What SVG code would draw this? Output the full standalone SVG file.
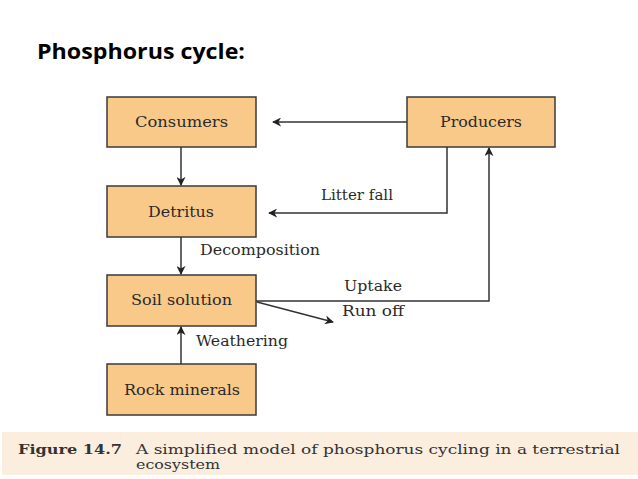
<svg xmlns="http://www.w3.org/2000/svg" width="638" height="479" viewBox="0 0 638 479">
<style>
.box{fill:#f9c98a;stroke:#3a3a3a;stroke-width:1.5}
.lbl{font-family:"DejaVu Serif","Liberation Serif",serif;font-size:14px;fill:#2a2a2a}
.cl{font-family:"DejaVu Serif","Liberation Serif",serif;font-size:14px;fill:#2a2a2a}
.ln{fill:none;stroke:#333;stroke-width:1.5}
.cap{font-family:"DejaVu Serif","Liberation Serif",serif;font-size:12.5px;fill:#333}
</style>
<defs>
<marker id="ah" viewBox="0 0 10 10" refX="9" refY="5" markerWidth="9" markerHeight="9" markerUnits="userSpaceOnUse" orient="auto">
<path d="M0,0 L10,5 L0,10 L3,5 Z" fill="#222"/>
</marker>
</defs>
<rect width="638" height="479" fill="#fff"/>
<text x="37" y="59" font-family="'Open Sans','Liberation Sans',sans-serif" font-weight="bold" font-size="21" fill="#000" textLength="208" lengthAdjust="spacingAndGlyphs">Phosphorus cycle:</text>
<g id="consumers"><rect class="box" x="107" y="97" width="149" height="50"/><text class="cl" x="135" y="127" textLength="93" lengthAdjust="spacingAndGlyphs">Consumers</text></g>
<g id="producers"><rect class="box" x="407" y="97" width="148" height="50"/><text class="cl" x="440" y="127" textLength="82" lengthAdjust="spacingAndGlyphs">Producers</text></g>
<g id="detritus"><rect class="box" x="107" y="186" width="149" height="51"/><text class="cl" x="148" y="217" textLength="66" lengthAdjust="spacingAndGlyphs">Detritus</text></g>
<g id="soil"><rect class="box" x="107" y="275" width="149" height="51"/><text class="cl" x="131" y="305" textLength="101" lengthAdjust="spacingAndGlyphs">Soil solution</text></g>
<g id="rock"><rect class="box" x="107" y="364" width="149" height="51"/><text class="cl" x="124" y="395" textLength="116" lengthAdjust="spacingAndGlyphs">Rock minerals</text></g>
<g id="connectors">
<line class="ln" x1="407" y1="122" x2="273" y2="122" marker-end="url(#ah)"/>
<line class="ln" x1="181" y1="147" x2="181" y2="185" marker-end="url(#ah)"/>
<polyline class="ln" points="447,147 447,213 269,213" marker-end="url(#ah)"/>
<line class="ln" x1="181" y1="237" x2="181" y2="274" marker-end="url(#ah)"/>
<polyline class="ln" points="256,301 489,301 489,148" marker-end="url(#ah)"/>
<line class="ln" x1="257" y1="302" x2="333" y2="322" marker-end="url(#ah)"/>
<line class="ln" x1="181" y1="364" x2="181" y2="327" marker-end="url(#ah)"/>
<text class="lbl" x="321" y="200" textLength="72" lengthAdjust="spacingAndGlyphs">Litter fall</text>
<text class="lbl" x="200" y="255" textLength="120" lengthAdjust="spacingAndGlyphs">Decomposition</text>
<text class="lbl" x="344" y="291" textLength="58" lengthAdjust="spacingAndGlyphs">Uptake</text>
<text class="lbl" x="342" y="316" textLength="62" lengthAdjust="spacingAndGlyphs">Run off</text>
<text class="lbl" x="196" y="346" textLength="92" lengthAdjust="spacingAndGlyphs">Weathering</text>
</g>
<rect x="2" y="432" width="636" height="43" fill="#fbeedf"/>
<text class="cap" x="18" y="454" font-weight="bold" textLength="104" lengthAdjust="spacingAndGlyphs">Figure 14.7</text>
<text class="cap" x="136" y="454" textLength="484" lengthAdjust="spacingAndGlyphs">A simplified model of phosphorus cycling in a terrestrial</text>
<text class="cap" x="136" y="469" textLength="84" lengthAdjust="spacingAndGlyphs">ecosystem</text>
</svg>
